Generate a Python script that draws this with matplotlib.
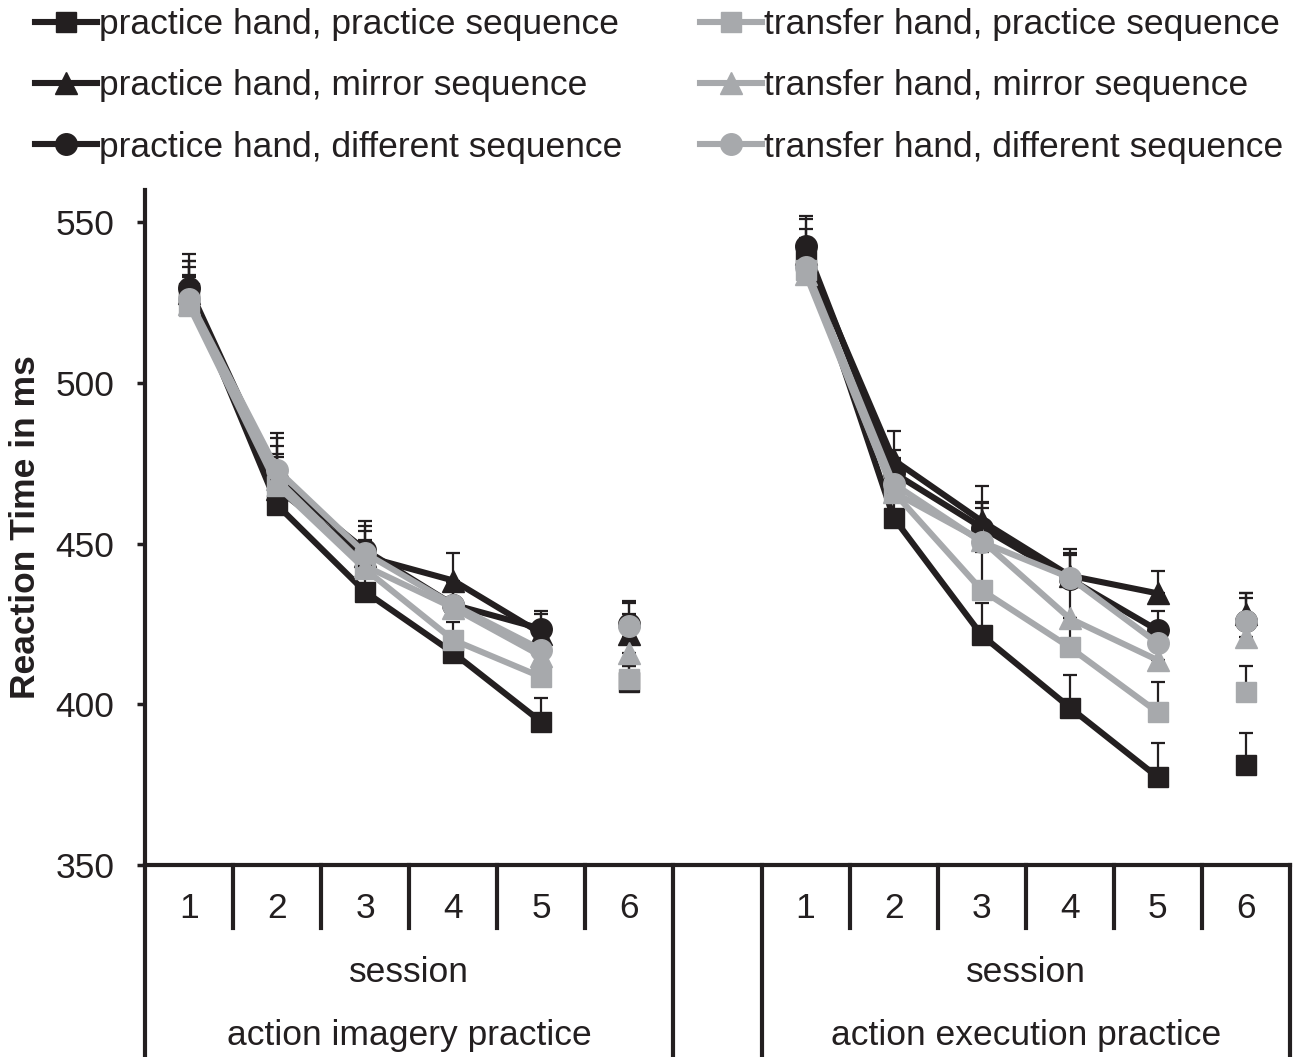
import matplotlib.pyplot as plt
from matplotlib.lines import Line2D
import numpy as np

plt.rcParams['font.family'] = ['Liberation Sans', 'DejaVu Sans']

# sessions 1-6 for each practice group, group 2 shifted right by one empty slot
sessions = ['1', '2', '3', '4', '5', '6']
x_imagery = np.array([1, 2, 3, 4, 5, 6])
x_execution = np.array([8, 9, 10, 11, 12, 13])

labels = ['practice hand, practice sequence', 'practice hand, mirror sequence',
          'practice hand, different sequence', 'transfer hand, practice sequence',
          'transfer hand, mirror sequence', 'transfer hand, different sequence']

# mean RT (ms), action imagery practice
img_ph_ps = [528, 462, 435, 416, 394.5, 407]
img_ph_ms = [528, 467, 446, 438.5, 422, 422]
img_ph_ds = [529.5, 470, 448, 431, 423.5, 425]
img_th_ps = [524, 468, 442, 420, 408.5, 408]
img_th_ms = [524.5, 470, 443, 430, 415, 416]
img_th_ds = [526, 473, 447, 431, 417, 424.5]

# standard errors, action imagery practice
img_ph_ps_se = [10, 10, 8, 6, 7.5, 5]
img_ph_ms_se = [10, 10, 8, 8.5, 6, 6]
img_ph_ds_se = [10.5, 12.7, 7.6, 7, 5.5, 7]
img_th_ps_se = [9, 10, 8, 5.5, 5, 4]
img_th_ms_se = [9, 10.4, 8, 7, 5, 5]
img_th_ds_se = [10, 11.5, 10, 7, 5, 7]

# mean RT (ms), action execution practice
exe_ph_ps = [540, 458, 421.5, 399, 377.3, 381]
exe_ph_ms = [540, 476, 457, 440, 434.5, 428]
exe_ph_ds = [542.5, 472, 455, 439, 423, 426]
exe_th_ps = [535, 466, 435.5, 417.7, 397.5, 403.7]
exe_th_ms = [534, 466, 451, 426.7, 413.7, 421]
exe_th_ds = [536, 468.6, 450.5, 439.4, 419, 426]

# standard errors, action execution practice
exe_ph_ps_se = [8, 8, 10, 10, 10.7, 10]
exe_ph_ms_se = [11, 9, 11, 8.4, 7, 5]
exe_ph_ds_se = [9.5, 7, 8, 8, 6, 8.5]
exe_th_ps_se = [9, 8, 12, 9, 9.5, 8.3]
exe_th_ms_se = [9, 8, 10, 10, 6, 7]
exe_th_ds_se = [9, 8, 12, 7, 6, 8.5]

imagery = [img_ph_ps, img_ph_ms, img_ph_ds, img_th_ps, img_th_ms, img_th_ds]
imagery_se = [img_ph_ps_se, img_ph_ms_se, img_ph_ds_se, img_th_ps_se, img_th_ms_se, img_th_ds_se]
execution = [exe_ph_ps, exe_ph_ms, exe_ph_ds, exe_th_ps, exe_th_ms, exe_th_ds]
execution_se = [exe_ph_ps_se, exe_ph_ms_se, exe_ph_ds_se, exe_th_ps_se, exe_th_ms_se, exe_th_ds_se]

black = '#231f20'
grey = '#a7a9ac'
colors = [black, black, black, grey, grey, grey]
markers = ['s', '^', 'o', 's', '^', 'o']
msizes = [14.5, 15.5, 15.5, 14.5, 15.5, 15.5]
lw = 4.4
fs = 25.5

fig = plt.figure(figsize=(13.03, 10.57), dpi=100)
ax = fig.add_axes([145 / 1303, 192 / 1057, 1145 / 1303, 675 / 1057])

for vals, ses, xs in [(imagery, imagery_se, x_imagery), (execution, execution_se, x_execution)]:
    z = 3
    for i in range(6):
        v = np.array(vals[i])
        se = np.array(ses[i])
        ax.errorbar(xs, v, yerr=[np.zeros(6), se], fmt='none', ecolor=black,
                    elinewidth=1.6, capsize=5, capthick=1.6, zorder=z)
        # sessions 1-5 joined, session 6 stands alone
        ax.plot(xs[:5], v[:5], color=colors[i], lw=lw, marker=markers[i],
                ms=msizes[i], solid_joinstyle='round', zorder=z + 0.5)
        ax.plot(xs[5:], v[5:], color=colors[i], lw=0, marker=markers[i],
                ms=msizes[i], zorder=z + 0.5)
        z += 1

ax.set_xlim(0.5, 13.5)
ax.set_ylim(350, 560)
ax.set_yticks([350, 400, 450, 500, 550])
ax.tick_params(axis='y', direction='out', length=6, width=2.5, pad=16,
               labelsize=fs, color=black, labelcolor=black)
ax.set_xticks([])
for s in ['top', 'right']:
    ax.spines[s].set_visible(False)
for s in ['left', 'bottom']:
    ax.spines[s].set_linewidth(3)
    ax.spines[s].set_color(black)

ax.set_ylabel('Reaction Time in ms', fontsize=fs, fontweight='bold', color=black,
              labelpad=10)

# category table under the x axis
trans = ax.get_xaxis_transform()
short = -63 / 675
full = -192 / 675
for xd in [1.5, 2.5, 3.5, 4.5, 5.5, 8.5, 9.5, 10.5, 11.5, 12.5]:
    ax.plot([xd, xd], [0, short], transform=trans, color=black, lw=3, clip_on=False)
for xd in [0.5, 6.5, 7.5, 13.5]:
    ax.plot([xd, xd], [0, full], transform=trans, color=black, lw=3, clip_on=False)
for xs in [x_imagery, x_execution]:
    for xd, lab in zip(xs, sessions):
        ax.text(xd, -44 / 675, lab, transform=trans, ha='center', va='center',
                fontsize=fs, color=black)
ax.text(3.5, -108 / 675, 'session', transform=trans, ha='center', va='center',
        fontsize=fs, color=black)
ax.text(10.5, -108 / 675, 'session', transform=trans, ha='center', va='center',
        fontsize=fs, color=black)
ax.text(3.5, -171 / 675, 'action imagery practice', transform=trans, ha='center',
        va='center', fontsize=fs, color=black)
ax.text(10.5, -171 / 675, 'action execution practice', transform=trans, ha='center',
        va='center', fontsize=fs, color=black)

handles = [Line2D([], [], color=colors[i], lw=lw, marker=markers[i], ms=msizes[i])
           for i in range(6)]
for k, x0 in enumerate([35 / 1303, 700 / 1303]):
    leg = fig.legend(handles[3 * k:3 * k + 3], labels[3 * k:3 * k + 3],
                     loc='upper left', bbox_to_anchor=(x0, 1 - 8 / 1057),
                     frameon=False, fontsize=fs, handlelength=1.75,
                     handletextpad=0.06, labelspacing=0.8, borderpad=0,
                     borderaxespad=0)
    for t in leg.get_texts():
        t.set_color(black)

fig.savefig('out.png', dpi=100)
